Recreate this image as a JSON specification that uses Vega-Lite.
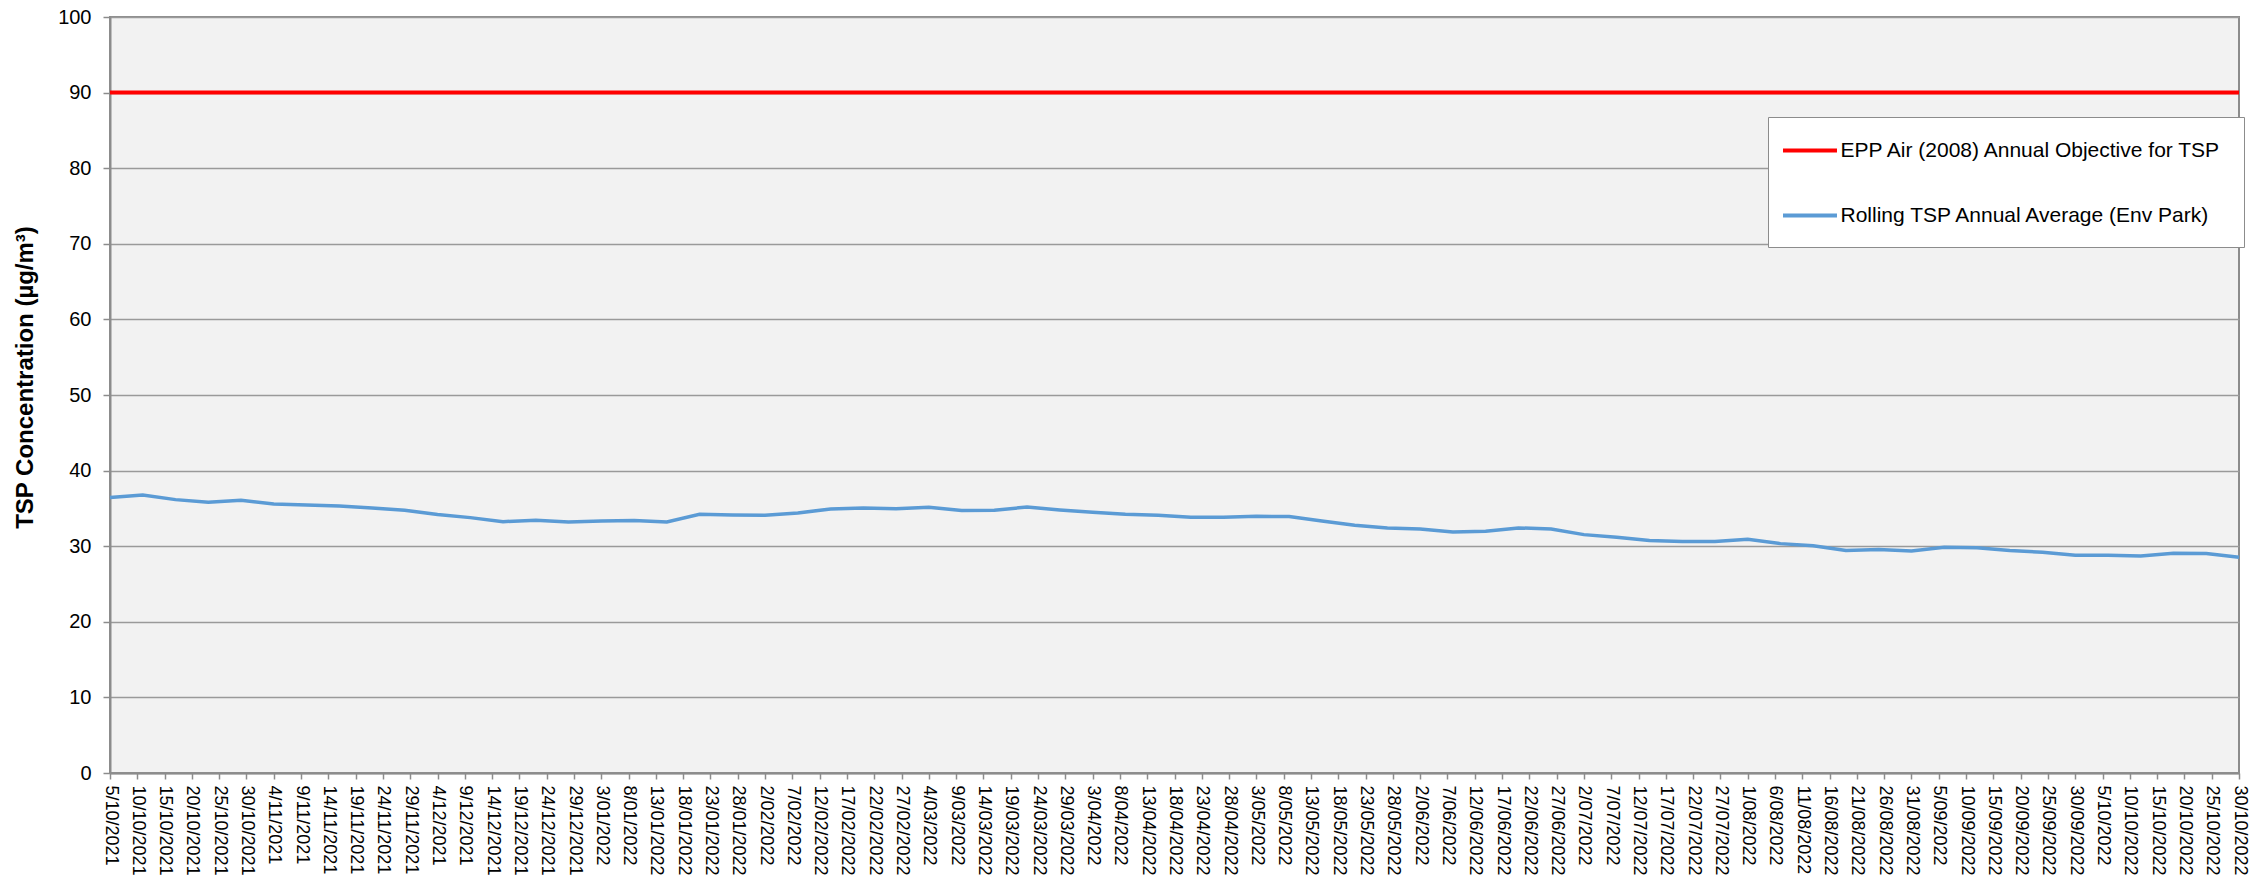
{
  "$schema": "https://vega.github.io/schema/vega-lite/v6.json",
  "width": 2129,
  "height": 756,
  "autosize": {"type": "none"},
  "padding": {"left": 110, "top": 17, "right": 28, "bottom": 105},
  "background": "white",
  "config": {
    "font": "Liberation Sans",
    "view": {"fill": "#F2F2F2", "stroke": "#8c8c8c", "strokeWidth": 2}
  },
  "data": {"values": [
    {"date": "2021-10-05", "value": 90, "series": "EPP Air (2008) Annual Objective for TSP"},
    {"date": "2022-10-30", "value": 90, "series": "EPP Air (2008) Annual Objective for TSP"},
    {"date": "2021-10-05", "value": 36.43, "series": "Rolling TSP Annual Average (Env Park)"},
    {"date": "2021-10-11", "value": 36.78, "series": "Rolling TSP Annual Average (Env Park)"},
    {"date": "2021-10-17", "value": 36.16, "series": "Rolling TSP Annual Average (Env Park)"},
    {"date": "2021-10-23", "value": 35.81, "series": "Rolling TSP Annual Average (Env Park)"},
    {"date": "2021-10-29", "value": 36.08, "series": "Rolling TSP Annual Average (Env Park)"},
    {"date": "2021-11-04", "value": 35.59, "series": "Rolling TSP Annual Average (Env Park)"},
    {"date": "2021-11-10", "value": 35.46, "series": "Rolling TSP Annual Average (Env Park)"},
    {"date": "2021-11-16", "value": 35.33, "series": "Rolling TSP Annual Average (Env Park)"},
    {"date": "2021-11-22", "value": 35.06, "series": "Rolling TSP Annual Average (Env Park)"},
    {"date": "2021-11-28", "value": 34.75, "series": "Rolling TSP Annual Average (Env Park)"},
    {"date": "2021-12-04", "value": 34.18, "series": "Rolling TSP Annual Average (Env Park)"},
    {"date": "2021-12-10", "value": 33.78, "series": "Rolling TSP Annual Average (Env Park)"},
    {"date": "2021-12-16", "value": 33.25, "series": "Rolling TSP Annual Average (Env Park)"},
    {"date": "2021-12-22", "value": 33.43, "series": "Rolling TSP Annual Average (Env Park)"},
    {"date": "2021-12-28", "value": 33.21, "series": "Rolling TSP Annual Average (Env Park)"},
    {"date": "2022-01-03", "value": 33.34, "series": "Rolling TSP Annual Average (Env Park)"},
    {"date": "2022-01-09", "value": 33.39, "series": "Rolling TSP Annual Average (Env Park)"},
    {"date": "2022-01-15", "value": 33.21, "series": "Rolling TSP Annual Average (Env Park)"},
    {"date": "2022-01-21", "value": 34.22, "series": "Rolling TSP Annual Average (Env Park)"},
    {"date": "2022-01-27", "value": 34.14, "series": "Rolling TSP Annual Average (Env Park)"},
    {"date": "2022-02-02", "value": 34.09, "series": "Rolling TSP Annual Average (Env Park)"},
    {"date": "2022-02-08", "value": 34.40, "series": "Rolling TSP Annual Average (Env Park)"},
    {"date": "2022-02-14", "value": 34.93, "series": "Rolling TSP Annual Average (Env Park)"},
    {"date": "2022-02-20", "value": 35.06, "series": "Rolling TSP Annual Average (Env Park)"},
    {"date": "2022-02-26", "value": 34.97, "series": "Rolling TSP Annual Average (Env Park)"},
    {"date": "2022-03-04", "value": 35.15, "series": "Rolling TSP Annual Average (Env Park)"},
    {"date": "2022-03-10", "value": 34.71, "series": "Rolling TSP Annual Average (Env Park)"},
    {"date": "2022-03-16", "value": 34.75, "series": "Rolling TSP Annual Average (Env Park)"},
    {"date": "2022-03-22", "value": 35.19, "series": "Rolling TSP Annual Average (Env Park)"},
    {"date": "2022-03-28", "value": 34.80, "series": "Rolling TSP Annual Average (Env Park)"},
    {"date": "2022-04-03", "value": 34.49, "series": "Rolling TSP Annual Average (Env Park)"},
    {"date": "2022-04-09", "value": 34.22, "series": "Rolling TSP Annual Average (Env Park)"},
    {"date": "2022-04-15", "value": 34.09, "series": "Rolling TSP Annual Average (Env Park)"},
    {"date": "2022-04-21", "value": 33.83, "series": "Rolling TSP Annual Average (Env Park)"},
    {"date": "2022-04-27", "value": 33.83, "series": "Rolling TSP Annual Average (Env Park)"},
    {"date": "2022-05-03", "value": 33.96, "series": "Rolling TSP Annual Average (Env Park)"},
    {"date": "2022-05-09", "value": 33.92, "series": "Rolling TSP Annual Average (Env Park)"},
    {"date": "2022-05-15", "value": 33.34, "series": "Rolling TSP Annual Average (Env Park)"},
    {"date": "2022-05-21", "value": 32.77, "series": "Rolling TSP Annual Average (Env Park)"},
    {"date": "2022-05-27", "value": 32.42, "series": "Rolling TSP Annual Average (Env Park)"},
    {"date": "2022-06-02", "value": 32.28, "series": "Rolling TSP Annual Average (Env Park)"},
    {"date": "2022-06-08", "value": 31.89, "series": "Rolling TSP Annual Average (Env Park)"},
    {"date": "2022-06-14", "value": 31.98, "series": "Rolling TSP Annual Average (Env Park)"},
    {"date": "2022-06-20", "value": 32.42, "series": "Rolling TSP Annual Average (Env Park)"},
    {"date": "2022-06-26", "value": 32.28, "series": "Rolling TSP Annual Average (Env Park)"},
    {"date": "2022-07-02", "value": 31.53, "series": "Rolling TSP Annual Average (Env Park)"},
    {"date": "2022-07-08", "value": 31.18, "series": "Rolling TSP Annual Average (Env Park)"},
    {"date": "2022-07-14", "value": 30.74, "series": "Rolling TSP Annual Average (Env Park)"},
    {"date": "2022-07-20", "value": 30.61, "series": "Rolling TSP Annual Average (Env Park)"},
    {"date": "2022-07-26", "value": 30.61, "series": "Rolling TSP Annual Average (Env Park)"},
    {"date": "2022-08-01", "value": 30.92, "series": "Rolling TSP Annual Average (Env Park)"},
    {"date": "2022-08-07", "value": 30.34, "series": "Rolling TSP Annual Average (Env Park)"},
    {"date": "2022-08-13", "value": 30.07, "series": "Rolling TSP Annual Average (Env Park)"},
    {"date": "2022-08-19", "value": 29.42, "series": "Rolling TSP Annual Average (Env Park)"},
    {"date": "2022-08-25", "value": 29.55, "series": "Rolling TSP Annual Average (Env Park)"},
    {"date": "2022-08-31", "value": 29.37, "series": "Rolling TSP Annual Average (Env Park)"},
    {"date": "2022-09-06", "value": 29.86, "series": "Rolling TSP Annual Average (Env Park)"},
    {"date": "2022-09-12", "value": 29.81, "series": "Rolling TSP Annual Average (Env Park)"},
    {"date": "2022-09-18", "value": 29.42, "series": "Rolling TSP Annual Average (Env Park)"},
    {"date": "2022-09-24", "value": 29.20, "series": "Rolling TSP Annual Average (Env Park)"},
    {"date": "2022-09-30", "value": 28.80, "series": "Rolling TSP Annual Average (Env Park)"},
    {"date": "2022-10-06", "value": 28.80, "series": "Rolling TSP Annual Average (Env Park)"},
    {"date": "2022-10-12", "value": 28.71, "series": "Rolling TSP Annual Average (Env Park)"},
    {"date": "2022-10-18", "value": 29.07, "series": "Rolling TSP Annual Average (Env Park)"},
    {"date": "2022-10-24", "value": 29.02, "series": "Rolling TSP Annual Average (Env Park)"},
    {"date": "2022-10-30", "value": 28.54, "series": "Rolling TSP Annual Average (Env Park)"}
  ]},
  "encoding": {
    "x": {
      "field": "date",
      "type": "temporal",
      "scale": {
        "type": "utc",
        "nice": false,
        "domain": [
          {"year": 2021, "month": 10, "date": 5, "utc": true},
          {"year": 2022, "month": 10, "date": 30, "utc": true}
        ]
      },
      "axis": {
        "title": null,
        "grid": false,
        "format": "%-d/%m/%Y",
        "labelAngle": 90,
        "labelAlign": "left",
        "labelBaseline": "middle",
        "labelFontSize": 18,
        "labelColor": "#000000",
        "labelPadding": 6,
        "labelOverlap": false,
        "labelFlush": false,
        "labelBound": false,
        "tickSize": 6,
        "tickColor": "#8c8c8c",
        "tickWidth": 1.5,
        "domainColor": "#8c8c8c",
        "domainWidth": 2,
        "values": [
          {"year": 2021, "month": 10, "date": 5, "utc": true},
          {"year": 2021, "month": 10, "date": 10, "utc": true},
          {"year": 2021, "month": 10, "date": 15, "utc": true},
          {"year": 2021, "month": 10, "date": 20, "utc": true},
          {"year": 2021, "month": 10, "date": 25, "utc": true},
          {"year": 2021, "month": 10, "date": 30, "utc": true},
          {"year": 2021, "month": 11, "date": 4, "utc": true},
          {"year": 2021, "month": 11, "date": 9, "utc": true},
          {"year": 2021, "month": 11, "date": 14, "utc": true},
          {"year": 2021, "month": 11, "date": 19, "utc": true},
          {"year": 2021, "month": 11, "date": 24, "utc": true},
          {"year": 2021, "month": 11, "date": 29, "utc": true},
          {"year": 2021, "month": 12, "date": 4, "utc": true},
          {"year": 2021, "month": 12, "date": 9, "utc": true},
          {"year": 2021, "month": 12, "date": 14, "utc": true},
          {"year": 2021, "month": 12, "date": 19, "utc": true},
          {"year": 2021, "month": 12, "date": 24, "utc": true},
          {"year": 2021, "month": 12, "date": 29, "utc": true},
          {"year": 2022, "month": 1, "date": 3, "utc": true},
          {"year": 2022, "month": 1, "date": 8, "utc": true},
          {"year": 2022, "month": 1, "date": 13, "utc": true},
          {"year": 2022, "month": 1, "date": 18, "utc": true},
          {"year": 2022, "month": 1, "date": 23, "utc": true},
          {"year": 2022, "month": 1, "date": 28, "utc": true},
          {"year": 2022, "month": 2, "date": 2, "utc": true},
          {"year": 2022, "month": 2, "date": 7, "utc": true},
          {"year": 2022, "month": 2, "date": 12, "utc": true},
          {"year": 2022, "month": 2, "date": 17, "utc": true},
          {"year": 2022, "month": 2, "date": 22, "utc": true},
          {"year": 2022, "month": 2, "date": 27, "utc": true},
          {"year": 2022, "month": 3, "date": 4, "utc": true},
          {"year": 2022, "month": 3, "date": 9, "utc": true},
          {"year": 2022, "month": 3, "date": 14, "utc": true},
          {"year": 2022, "month": 3, "date": 19, "utc": true},
          {"year": 2022, "month": 3, "date": 24, "utc": true},
          {"year": 2022, "month": 3, "date": 29, "utc": true},
          {"year": 2022, "month": 4, "date": 3, "utc": true},
          {"year": 2022, "month": 4, "date": 8, "utc": true},
          {"year": 2022, "month": 4, "date": 13, "utc": true},
          {"year": 2022, "month": 4, "date": 18, "utc": true},
          {"year": 2022, "month": 4, "date": 23, "utc": true},
          {"year": 2022, "month": 4, "date": 28, "utc": true},
          {"year": 2022, "month": 5, "date": 3, "utc": true},
          {"year": 2022, "month": 5, "date": 8, "utc": true},
          {"year": 2022, "month": 5, "date": 13, "utc": true},
          {"year": 2022, "month": 5, "date": 18, "utc": true},
          {"year": 2022, "month": 5, "date": 23, "utc": true},
          {"year": 2022, "month": 5, "date": 28, "utc": true},
          {"year": 2022, "month": 6, "date": 2, "utc": true},
          {"year": 2022, "month": 6, "date": 7, "utc": true},
          {"year": 2022, "month": 6, "date": 12, "utc": true},
          {"year": 2022, "month": 6, "date": 17, "utc": true},
          {"year": 2022, "month": 6, "date": 22, "utc": true},
          {"year": 2022, "month": 6, "date": 27, "utc": true},
          {"year": 2022, "month": 7, "date": 2, "utc": true},
          {"year": 2022, "month": 7, "date": 7, "utc": true},
          {"year": 2022, "month": 7, "date": 12, "utc": true},
          {"year": 2022, "month": 7, "date": 17, "utc": true},
          {"year": 2022, "month": 7, "date": 22, "utc": true},
          {"year": 2022, "month": 7, "date": 27, "utc": true},
          {"year": 2022, "month": 8, "date": 1, "utc": true},
          {"year": 2022, "month": 8, "date": 6, "utc": true},
          {"year": 2022, "month": 8, "date": 11, "utc": true},
          {"year": 2022, "month": 8, "date": 16, "utc": true},
          {"year": 2022, "month": 8, "date": 21, "utc": true},
          {"year": 2022, "month": 8, "date": 26, "utc": true},
          {"year": 2022, "month": 8, "date": 31, "utc": true},
          {"year": 2022, "month": 9, "date": 5, "utc": true},
          {"year": 2022, "month": 9, "date": 10, "utc": true},
          {"year": 2022, "month": 9, "date": 15, "utc": true},
          {"year": 2022, "month": 9, "date": 20, "utc": true},
          {"year": 2022, "month": 9, "date": 25, "utc": true},
          {"year": 2022, "month": 9, "date": 30, "utc": true},
          {"year": 2022, "month": 10, "date": 5, "utc": true},
          {"year": 2022, "month": 10, "date": 10, "utc": true},
          {"year": 2022, "month": 10, "date": 15, "utc": true},
          {"year": 2022, "month": 10, "date": 20, "utc": true},
          {"year": 2022, "month": 10, "date": 25, "utc": true},
          {"year": 2022, "month": 10, "date": 30, "utc": true}
        ]
      }
    },
    "y": {
      "field": "value",
      "type": "quantitative",
      "scale": {"domain": [0, 100], "nice": false},
      "axis": {
        "title": "TSP Concentration (µg/m³)",
        "titleFontSize": 24,
        "titleFontWeight": "bold",
        "titleColor": "#000000",
        "titlePadding": 20,
        "titleY": 360,
        "values": [0, 10, 20, 30, 40, 50, 60, 70, 80, 90, 100],
        "labelFontSize": 20,
        "labelColor": "#000000",
        "labelPadding": 12,
        "tickSize": 7,
        "tickColor": "#8c8c8c",
        "tickWidth": 1.5,
        "domainColor": "#8c8c8c",
        "domainWidth": 2,
        "grid": true,
        "gridColor": "#9a9a9a",
        "gridWidth": 1.5
      }
    },
    "color": {
      "field": "series",
      "type": "nominal",
      "scale": {
        "domain": ["EPP Air (2008) Annual Objective for TSP", "Rolling TSP Annual Average (Env Park)"],
        "range": ["#FF0000", "#5B9BD5"]
      },
      "legend": {
        "title": null,
        "orient": "none",
        "legendX": 1658,
        "legendY": 100,
        "fillColor": "#FFFFFF",
        "strokeColor": "#8c8c8c",
        "padding": 21,
        "symbolType": "M-2.57,0H2.57",
        "symbolSize": 441,
        "symbolStrokeWidth": 4,
        "symbolOffset": 8.5,
        "labelFontSize": 21,
        "labelColor": "#000000",
        "labelOffset": 18,
        "labelLimit": 600,
        "rowPadding": 42
      }
    }
  },
  "layer": [
    {
      "transform": [{"filter": "datum.series === 'EPP Air (2008) Annual Objective for TSP'"}],
      "mark": {"type": "line", "strokeWidth": 4}
    },
    {
      "transform": [{"filter": "datum.series === 'Rolling TSP Annual Average (Env Park)'"}],
      "mark": {"type": "line", "strokeWidth": 3.5}
    }
  ]
}
